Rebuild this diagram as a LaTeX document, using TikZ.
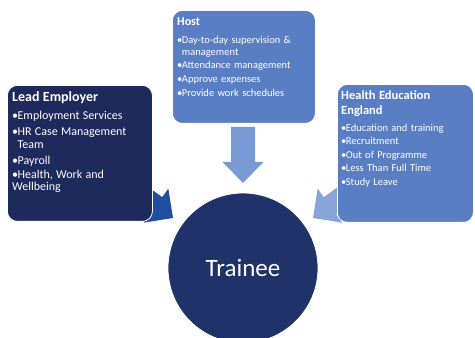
\documentclass[tikz,border=0pt]{standalone}
\usepackage{fontspec}
\setmainfont{Carlito}
\usetikzlibrary{positioning}
\definecolor{leadnavy}{RGB}{31,42,92}
\definecolor{boxblue}{RGB}{90,126,196}
\definecolor{traineenavy}{RGB}{31,50,105}
\definecolor{leadarrowblue}{RGB}{31,78,158}
\definecolor{hostarrowblue}{RGB}{122,154,214}
\definecolor{heearrowblue}{RGB}{137,165,216}
\newcommand{\bul}[1]{\par\hangindent=0.45em\hangafter=1\noindent\makebox[0.45em][l]{\textbullet}#1}
\tikzstyle{box} = [rectangle, rounded corners=10pt, draw=white, line width=0.8pt, anchor=north west, inner sep=0pt]
\tikzstyle{leadbox} = [box, fill=leadnavy, minimum width=145pt, minimum height=136pt]
\tikzstyle{hostbox} = [box, fill=boxblue, minimum width=143pt, minimum height=113pt]
\tikzstyle{heebox} = [box, fill=boxblue, minimum width=136pt, minimum height=138pt]
\tikzstyle{listtext} = [anchor=north west, inner sep=0pt, align=left, text=white]
\tikzstyle{trainee} = [circle, minimum size=150pt, draw=white, line width=0.8pt, fill=traineenavy, text=white, font=\fontsize{25}{30}\selectfont]

\begin{document}
\begin{tikzpicture}[x=1pt, y=1pt]
\clip (0,0) rectangle (475,338);
% block arrows first, the boxes hide their tails
\coordinate (leadtip) at (173,120);
\coordinate (hosttip) at (243,155);
\coordinate (heetip) at (313,120);
\fill[leadarrowblue, shift={(leadtip)}, rotate=-36] (0,0) -- (-21,21) -- (-21,10.5) -- (-70,10.5) -- (-70,-10.5) -- (-21,-10.5) -- (-21,-21) -- cycle;
\fill[heearrowblue, shift={(heetip)}, rotate=-144] (0,0) -- (-21,21) -- (-21,10.5) -- (-70,10.5) -- (-70,-10.5) -- (-21,-10.5) -- (-21,-21) -- cycle;
\fill[hostarrowblue, shift={(hosttip)}, rotate=-90] (0,0) -- (-21,20.5) -- (-21,12) -- (-56,12) -- (-56,-12) -- (-21,-12) -- (-21,-20.5) -- cycle;
% boxes
\node (lead) [leadbox] at (7,253) {};
\node (host) [hostbox] at (172,328) {};
\node (hee) [heebox] at (337,254) {};
\node (trn) [trainee] at (243,70) {Trainee};
% texts
\node (leadtxt) [listtext, text width=137pt] at ([shift={(5pt,-6pt)}]lead.north west) {%
  \setlength{\parskip}{2pt}%
  {\fontsize{14}{16}\selectfont\bfseries Lead Employer\par}
  \vspace{3pt}
  \fontsize{12}{13.5}\selectfont
  \bul{Employment Services}
  \bul{HR Case Management\newline Team}
  \bul{Payroll}
  \bul{Health, Work and\newline Wellbeing}};
\node (hosttxt) [listtext, text width=136pt] at ([shift={(5pt,-7.5pt)}]host.north west) {%
  \setlength{\parskip}{2pt}%
  {\fontsize{12}{14}\selectfont\bfseries Host\par}
  \vspace{5pt}
  \fontsize{10.5}{11.5}\selectfont
  \bul{Day-to-day supervision \&\newline management}
  \bul{Attendance management}
  \bul{Approve expenses}
  \bul{Provide work schedules}};
\node (heetxt) [listtext, text width=130pt] at ([shift={(4pt,-6.5pt)}]hee.north west) {%
  \setlength{\parskip}{2pt}%
  {\fontsize{12.5}{15}\selectfont\bfseries Health Education\\England\par}
  \vspace{3.5pt}
  \fontsize{10.5}{11.5}\selectfont
  \bul{Education and training}
  \bul{Recruitment}
  \bul{Out of Programme}
  \bul{Less Than Full Time}
  \bul{Study Leave}};
\end{tikzpicture}
\end{document}
